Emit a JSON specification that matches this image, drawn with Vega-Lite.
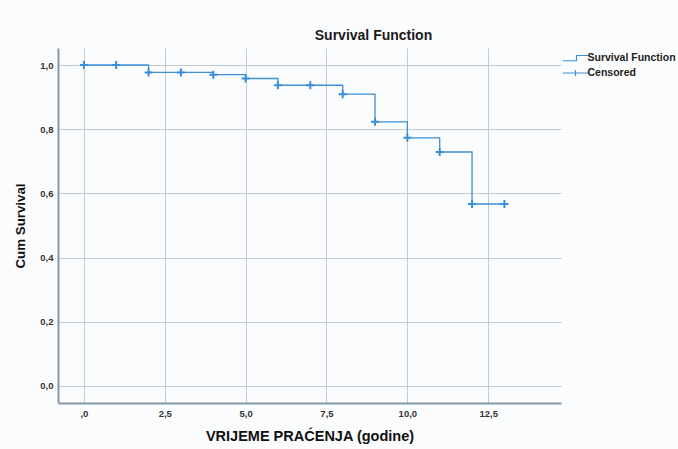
{
  "$schema": "https://vega.github.io/schema/vega-lite/v6.json",
  "width": 503,
  "height": 355,
  "autosize": {"type": "none"},
  "padding": {"left": 58, "top": 48, "right": 117, "bottom": 46},
  "background": "#fbfcfe",
  "title": {"text": "Survival Function", "font": "Liberation Sans", "fontSize": 14, "fontWeight": "bold", "color": "#1a1a1a", "anchor": "middle", "dx": 64, "offset": 5},
  "config": {
    "view": {"stroke": null},
    "axis": {"font": "Liberation Sans", "labelFont": "Liberation Sans", "titleFont": "Liberation Sans", "labelFontSize": 9.5, "labelColor": "#333333", "labelFontWeight": "bold", "titleColor": "#111111", "titleFontWeight": "bold", "ticks": false, "gridColor": "#c2ccd4", "gridWidth": 1, "domainColor": "#8397a6", "domainWidth": 2}
  },
  "datasets": {
    "steps": [
      {"t": 0, "s": 1.0, "series": "Survival Function"},
      {"t": 2, "s": 0.977, "series": "Survival Function"},
      {"t": 4, "s": 0.970, "series": "Survival Function"},
      {"t": 5, "s": 0.958, "series": "Survival Function"},
      {"t": 6, "s": 0.937, "series": "Survival Function"},
      {"t": 8, "s": 0.909, "series": "Survival Function"},
      {"t": 9, "s": 0.823, "series": "Survival Function"},
      {"t": 10, "s": 0.773, "series": "Survival Function"},
      {"t": 11, "s": 0.729, "series": "Survival Function"},
      {"t": 12, "s": 0.567, "series": "Survival Function"},
      {"t": 13, "s": 0.567, "series": "Survival Function"}
    ],
    "censored": [
      {"t": 0, "s": 1.0, "series": "Censored"},
      {"t": 1, "s": 1.0, "series": "Censored"},
      {"t": 2, "s": 0.977, "series": "Censored"},
      {"t": 3, "s": 0.977, "series": "Censored"},
      {"t": 4, "s": 0.970, "series": "Censored"},
      {"t": 5, "s": 0.958, "series": "Censored"},
      {"t": 6, "s": 0.937, "series": "Censored"},
      {"t": 7, "s": 0.937, "series": "Censored"},
      {"t": 8, "s": 0.909, "series": "Censored"},
      {"t": 9, "s": 0.823, "series": "Censored"},
      {"t": 10, "s": 0.773, "series": "Censored"},
      {"t": 11, "s": 0.729, "series": "Censored"},
      {"t": 12, "s": 0.567, "series": "Censored"},
      {"t": 13, "s": 0.567, "series": "Censored"}
    ]
  },
  "encoding": {
    "x": {"field": "t", "type": "quantitative", "scale": {"domain": [-0.8, 14.75], "nice": false, "zero": false},
      "axis": {"values": [0, 2.5, 5, 7.5, 10, 12.5], "labelExpr": "datum.value == 0 ? ',0' : replace(format(datum.value, '.1f'), '.', ',')", "title": "VRIJEME PRAĆENJA (godine)", "titleFontSize": 14.5, "titlePadding": 12, "labelPadding": 5}},
    "y": {"field": "s", "type": "quantitative", "scale": {"domain": [-0.053, 1.053], "nice": false, "zero": false},
      "axis": {"values": [0, 0.2, 0.4, 0.6, 0.8, 1.0], "labelExpr": "replace(format(datum.value, '.1f'), '.', ',')", "title": "Cum Survival", "titleFontSize": 13.3, "titlePadding": 12, "labelPadding": 5}},
    "color": {"field": "series", "type": "nominal",
      "scale": {"domain": ["Survival Function", "Censored"], "range": ["#3a8fd6", "#3a8fd6"]},
      "legend": {"title": null, "orient": "none", "legendX": 511.5, "legendY": 4, "labelFont": "Liberation Sans", "labelFontSize": 10.5, "labelColor": "#222222", "labelFontWeight": "bold", "rowPadding": 3, "symbolSize": 100, "symbolStrokeWidth": 1.2, "symbolStrokeColor": "#3a8fd6", "symbolOpacity": 1, "labelOffset": 6,
        "encode": {"symbols": {"update": {"shape": {"signal": "datum.value === 'Censored' ? 'M-2.5,0H2.5M0,-0.6V0.6' : 'M-2.5,0.55H0.2V-0.5H2.5'"}, "fill": {"value": "transparent"}, "stroke": {"value": "#3a8fd6"}, "opacity": {"value": 1}, "strokeOpacity": {"value": 1}}}}}}
  },
  "layer": [
    {"data": {"name": "steps"}, "mark": {"type": "line", "interpolate": "step-after", "strokeWidth": 1.3}},
    {"data": {"name": "censored"}, "mark": {"type": "point", "shape": "M-1,0H1M0,-1V1", "filled": false, "size": 64, "strokeWidth": 2, "opacity": 1}}
  ]
}
